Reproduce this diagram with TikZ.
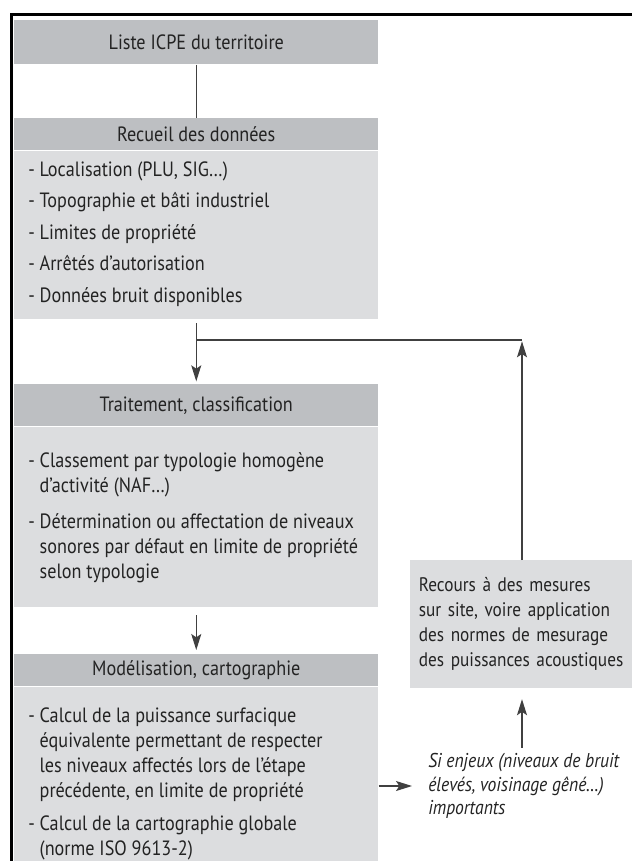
\documentclass[tikz,border=0pt]{standalone}
\usepackage{fontspec}
\setmainfont{PT Sans}[FakeStretch=0.88]
\usepackage{tikz}
\usetikzlibrary{positioning,arrows.meta}

\definecolor{grisfonce}{RGB}{189,191,194}
\definecolor{grisclair}{RGB}{220,221,223}
\definecolor{encre}{RGB}{35,35,35}

\newcommand{\tiret}[1]{\setbox0\hbox{- }\hangindent=\wd0 \hangafter=1 \noindent- #1\par}

\begin{document}
\begin{tikzpicture}[x=0.75pt, y=-0.75pt,
  titre/.style={fill=grisfonce, text=encre, minimum width=273pt, inner sep=0pt, anchor=north west, font=\fontsize{15.5}{18}\selectfont},
  corps/.style={fill=grisclair, text=encre, inner xsep=10.5pt, inner ysep=0pt, align=left, font=\fontsize{15.5}{18.75}\selectfont},
  fleche/.style={-{Stealth[length=12pt,width=7.5pt,inset=2.5pt]}, line width=0.9pt, draw=black!75},
  trait/.style={-, line width=0.9pt, draw=black!75}]

\useasboundingbox (0,0) rectangle (632,861);

\node[titre, minimum height=33pt] (liste) at (14,20) {Liste ICPE du territoire};

\node[titre, minimum height=24pt] (recueilT) at (14,118) {Recueil des données};
\node[corps, below=0pt of recueilT] (recueil) {\parbox[c][126pt][t]{252pt}{\setlength{\parskip}{4.9pt}\vspace*{3pt}
\tiret{Localisation (PLU, SIG…)}
\tiret{Topographie et bâti industriel}
\tiret{Limites de propriété}
\tiret{Arrêtés d’autorisation}
\tiret{Données bruit disponibles}}};

\node[titre, minimum height=31.5pt] (traitT) at (14,384) {Traitement, classification};
\node[corps, below=0pt of traitT] (traitement) {\parbox[c][135pt][t]{252pt}{\setlength{\parskip}{8.25pt}\vspace*{11pt}
\tiret{Classement par typologie homogène\\d’activité (NAF…)}
\tiret{Détermination ou affectation de niveaux\\sonores par défaut en limite de propriété\\selon typologie}}};

\node[titre, minimum height=24pt] (modT) at (14,654) {Modélisation, cartographie};
\node[corps, below=0pt of modT] (modele) {\parbox[c][150pt][t]{252pt}{\setlength{\parskip}{6pt}\vspace*{10pt}
\tiret{Calcul de la puissance surfacique\\équivalente permettant de respecter\\les niveaux affectés lors de l’étape\\précédente, en limite de propriété}
\tiret{Calcul de la cartographie globale\\(norme ISO 9613-2)}}};

\node[corps, anchor=north west, inner xsep=6.5pt, text width=200pt, minimum height=96pt, font=\fontsize{14.7}{18.75}\selectfont] (recours) at (410,560) {Recours à des mesures\\sur site, voire application\\des normes de mesurage\\des puissances acoustiques};

\node[anchor=west, inner xsep=0pt, inner ysep=3pt, align=left, text=encre, font=\fontsize{15}{17.5}\selectfont\itshape] (enjeux) at (428,786) {Si enjeux (niveaux de bruit\\élevés, voisinage gêné…)\\importants};

\coordinate (coin) at (522,340);
\coordinate (jonction) at (recueil.south |- coin);

% cadre
\draw[line width=2.25pt] (11,861) -- (11,14) -- (632,14);

\draw[trait] (liste) -- (recueilT);
\draw[fleche, shorten <=3pt, shorten >=2pt] (recueil.south) -- (traitT.north);
\draw[trait] (jonction) -- (coin);
\draw[fleche, shorten >=1pt] (recours.north -| coin) -- (coin);
\draw[fleche, shorten <=6pt, shorten >=3pt] (traitement.south) -- (modT.north);
\draw[fleche, shorten >=12pt] (modele.east |- enjeux.west) -- (enjeux.west);
\draw[fleche, shorten <=1pt, shorten >=8pt] (enjeux.north -| coin) -- (recours.south -| coin);

\end{tikzpicture}
\end{document}
